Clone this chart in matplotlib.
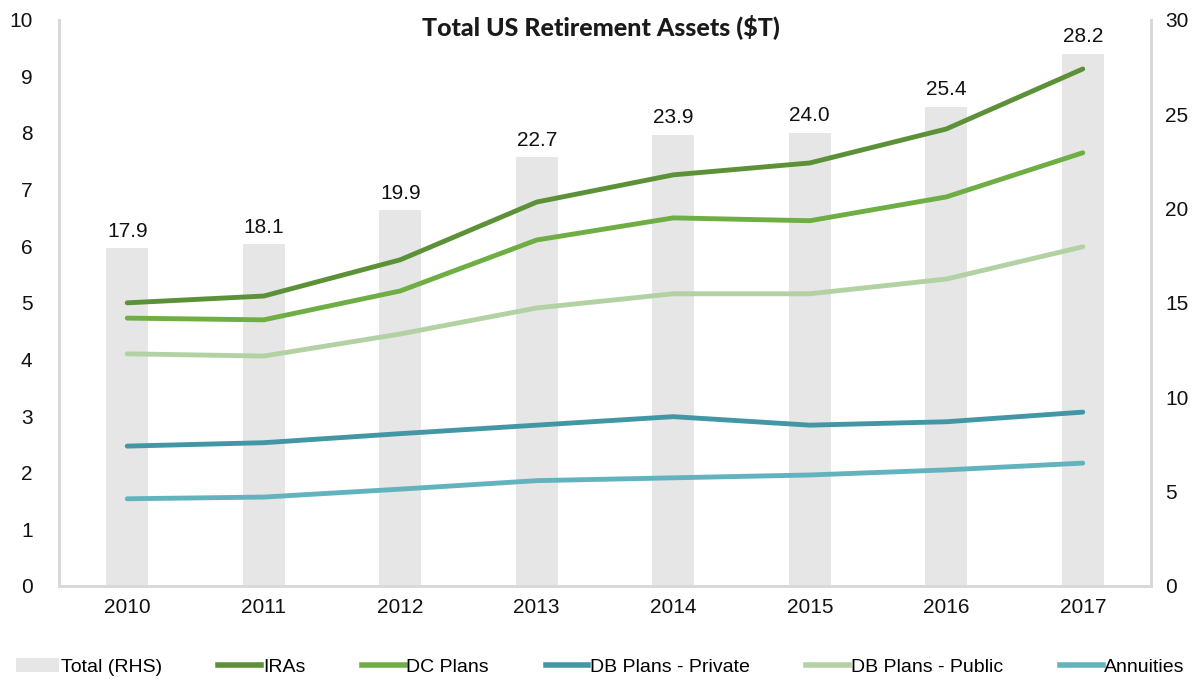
import numpy as np
import matplotlib
matplotlib.use('Agg')
from matplotlib import pyplot as plt
from matplotlib.patches import Patch
from matplotlib.lines import Line2D

plt.rcParams['font.family'] = ['Liberation Sans', 'DejaVu Sans']

years = ['2010', '2011', '2012', '2013', '2014', '2015', '2016', '2017']
total = [17.9, 18.1, 19.9, 22.7, 23.9, 24.0, 25.4, 28.2]
iras = [5.00, 5.12, 5.76, 6.78, 7.26, 7.47, 8.07, 9.13]
dc_plans = [4.73, 4.70, 5.21, 6.11, 6.50, 6.45, 6.87, 7.65]
db_private = [2.47, 2.53, 2.69, 2.84, 2.99, 2.84, 2.90, 3.07]
db_public = [4.10, 4.06, 4.45, 4.91, 5.16, 5.16, 5.42, 5.99]
annuities = [1.54, 1.57, 1.71, 1.86, 1.91, 1.96, 2.05, 2.17]

bar_color = '#E6E6E6'
series = [
    ('IRAs', iras, '#5C9138'),
    ('DC Plans', dc_plans, '#6EAE45'),
    ('DB Plans - Private', db_private, '#4397A5'),
    ('DB Plans - Public', db_public, '#B2D2A4'),
    ('Annuities', annuities, '#63B3BF'),
]

fig = plt.figure(figsize=(12.01, 6.79), dpi=100)
ax = fig.add_axes([0.0491, 0.137, 0.9093, 0.834])
ax2 = ax.twinx()

x = np.arange(len(years))

# bars on the right axis, lines on the left axis (lines drawn on top)
ax.set_zorder(ax2.get_zorder() + 1)
ax.patch.set_visible(False)

ax2.bar(x, total, width=0.31, color=bar_color, zorder=1)
for xi, v in zip(x, total):
    ax2.text(xi, v + 0.4, '%.1f' % v, ha='center', va='bottom', fontsize=15, color='#111111')

for name, vals, col in series:
    ax.plot(x, vals, color=col, lw=3.5, solid_capstyle='round', solid_joinstyle='round')

ax.set_xlim(-0.5, 7.5)
ax.set_ylim(0, 10)
ax2.set_ylim(0, 30)
ax.set_yticks(range(0, 11))
ax2.set_yticks(range(0, 31, 5))
ax.set_xticks(x)
ax.set_xticklabels(years)

for a in (ax, ax2):
    a.tick_params(length=0, labelsize=15, colors='#111111')
    for s in a.spines.values():
        s.set_color('#D9D9D9')
        s.set_linewidth(2)
    a.spines['top'].set_visible(False)
ax.tick_params(axis='y', pad=19)
ax2.tick_params(axis='y', pad=10)
ax.tick_params(axis='x', pad=9)

fig.text(0.5, 0.96, 'Total US Retirement Assets ($T)', ha='center', va='center',
         fontsize=18, fontweight='black', family=['Lato', 'DejaVu Sans'], color='#1a1a1a')

handles = [Patch(facecolor=bar_color, edgecolor='none')]
labels = ['Total (RHS)']
for name, vals, col in series:
    handles.append(Line2D([0], [0], color=col, lw=4))
    labels.append(name)

fig.legend(handles, labels, loc='center', bbox_to_anchor=(0.5, 0.018), ncol=6, frameon=False,
           prop={'size': 14}, handlelength=2.2, handletextpad=0.1, columnspacing=2.9)

fig.savefig('out.png', dpi=100)
